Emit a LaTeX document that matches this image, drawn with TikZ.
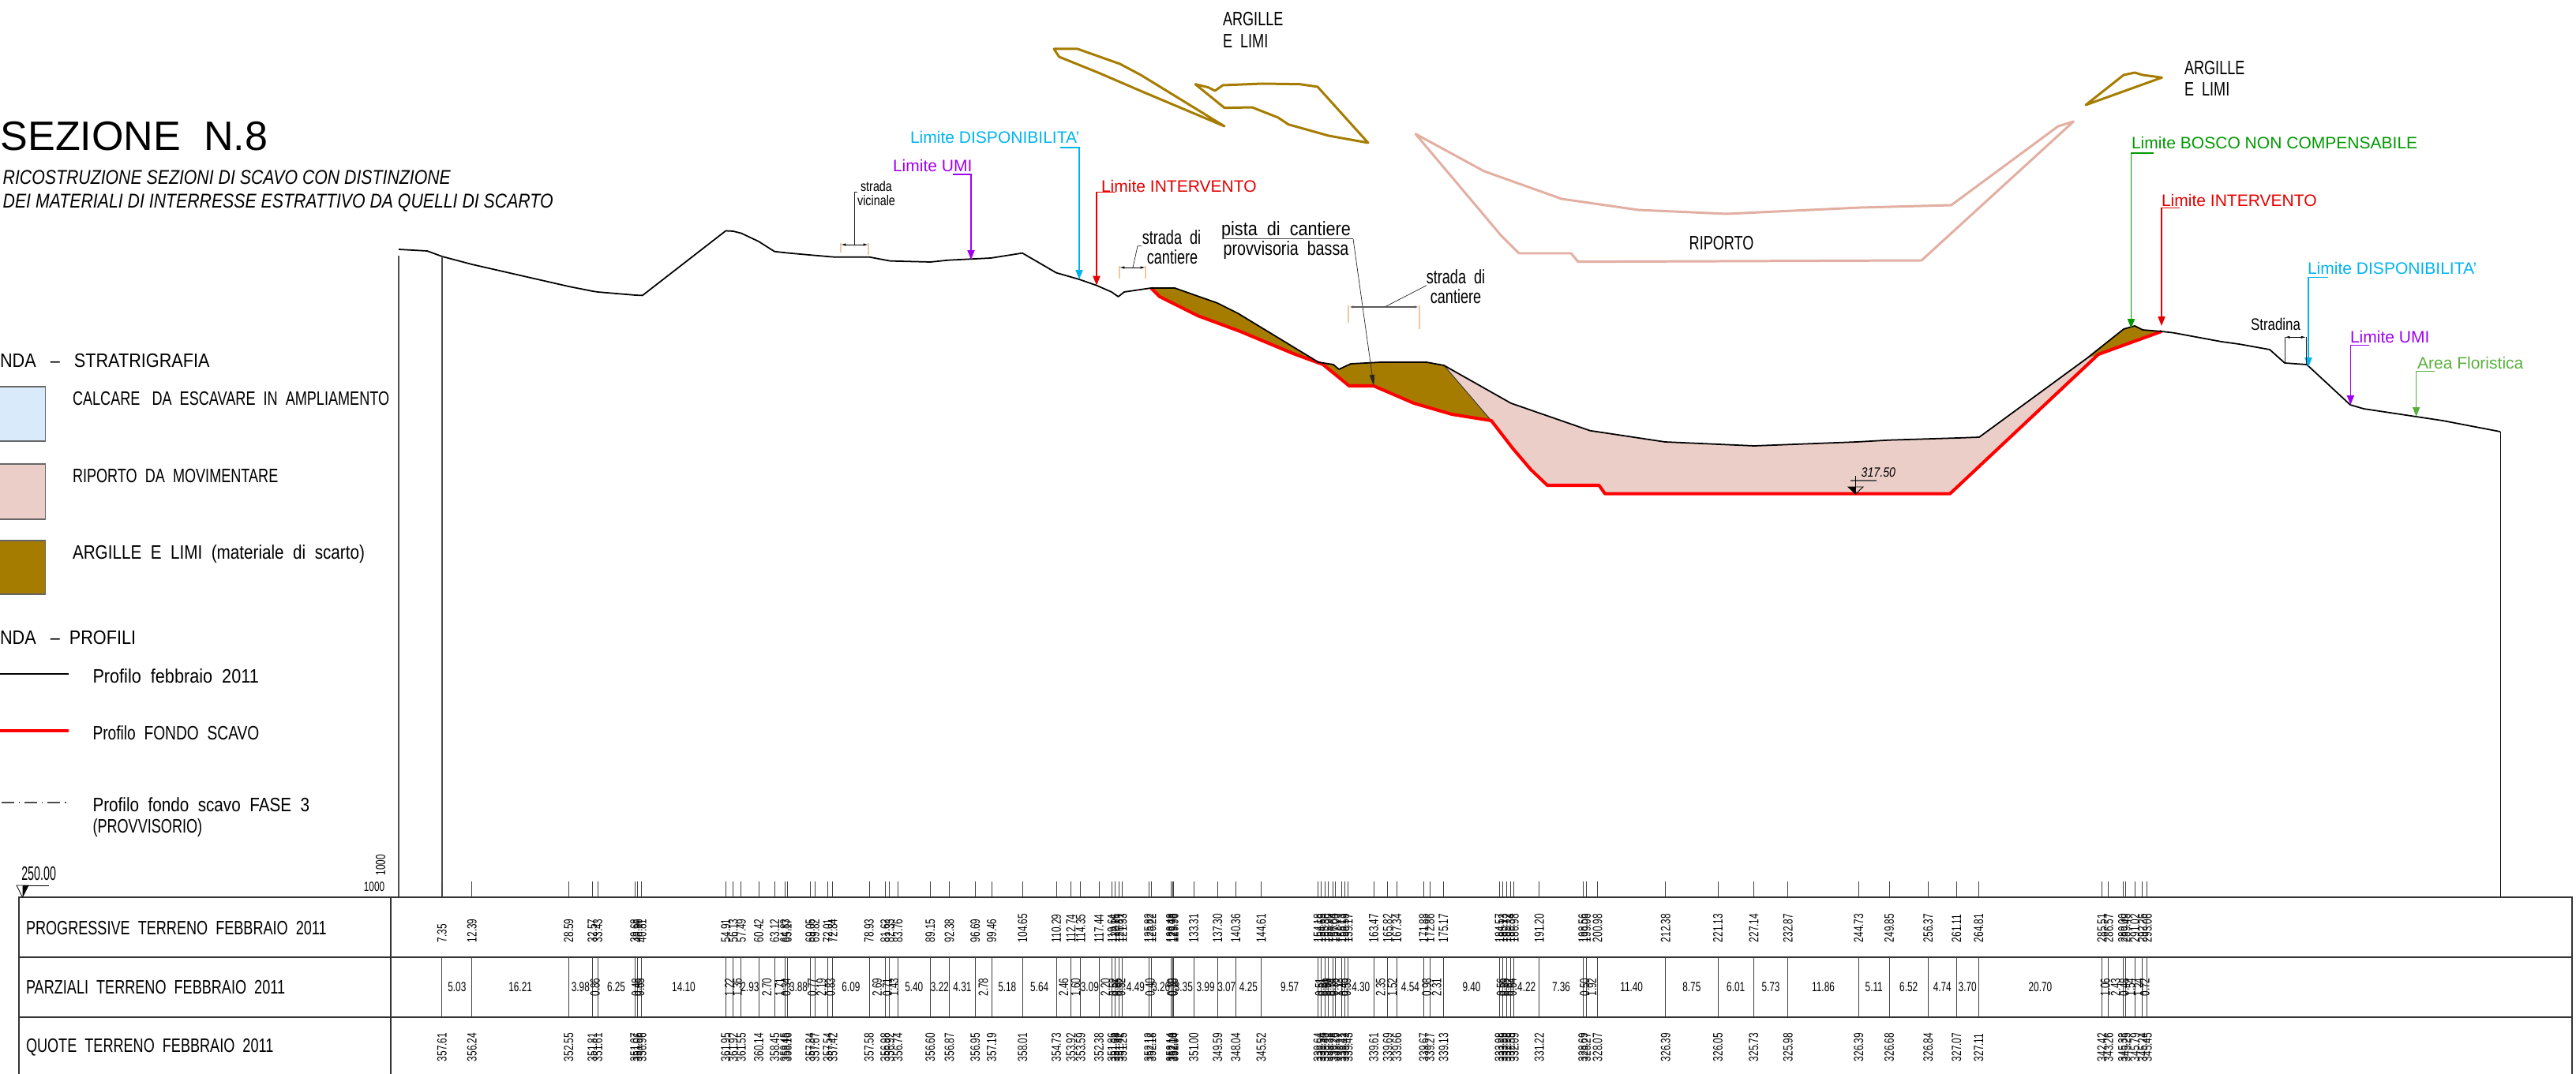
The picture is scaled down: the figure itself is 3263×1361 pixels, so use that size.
\documentclass[tikz,border=0pt]{standalone}
\usepackage{fontspec}
\usetikzlibrary{arrows.meta}
\setmainfont{Liberation Sans}
\newfontfamily\cad[FakeStretch=0.735]{Liberation Sans}
\newfontfamily\cadq[FakeStretch=0.78]{Liberation Sans}
\newfontfamily\cadm[FakeStretch=0.80]{Liberation Sans}
\newfontfamily\cadp[FakeStretch=0.84]{Liberation Sans}
\newfontfamily\cadl[FakeStretch=0.88]{Liberation Sans}
\newfontfamily\cadn[FakeStretch=0.7]{Liberation Sans}
\newfontfamily\cadx[FakeStretch=0.58]{Liberation Sans}
\newfontfamily\cadi[FakeStretch=0.84]{Liberation Sans Italic}
\definecolor{brownfill}{HTML}{A67C00}
\definecolor{pinkfill}{HTML}{EBCEC7}
\definecolor{pinkline}{HTML}{E2AFA2}
\definecolor{bluefill}{HTML}{D9EAFB}
\definecolor{cyanlim}{HTML}{00B4F0}
\definecolor{purplim}{HTML}{A000F0}
\definecolor{redlim}{HTML}{E60000}
\definecolor{greenlim}{HTML}{009900}
\definecolor{greenflo}{HTML}{5AAF3C}
\definecolor{tanext}{HTML}{F0C8A0}
\tikzset{
 txt/.style={inner sep=0pt,outer sep=0pt,font=\cad\fontsize{7pt}{7pt}\selectfont,text=black},
 txtm/.style={txt,font=\cadm\fontsize{7pt}{7pt}\selectfont},
 txtl/.style={txt,font=\cadl\fontsize{7pt}{7pt}\selectfont},
 txtp/.style={txt,font=\cadp\fontsize{7pt}{7pt}\selectfont},
 txtq/.style={txt,font=\cadq\fontsize{7pt}{7pt}\selectfont},
 txtL/.style={txt,anchor=west},
 txtmL/.style={txtm,anchor=west},
 txtlL/.style={txtl,anchor=west},
 small/.style={txt,font=\cadm\fontsize{5.1pt}{5.1pt}\selectfont},
 num/.style={inner sep=0pt,outer sep=0pt,font=\cadn\fontsize{4.8pt}{4.8pt}\selectfont},
 lim/.style={inner sep=0pt,outer sep=0pt,anchor=west,font=\fontsize{5.98pt}{5.98pt}\selectfont},
 limline/.style={line width=0.42pt,-{Triangle[length=3.4pt,width=2.6pt]}},
 brownline/.style={draw=brownfill,line width=0.85pt,line join=round},
 pinkout/.style={draw=pinkline,line width=0.85pt,line join=round},
 thinl/.style={line width=0.2pt,draw=black!85},
 dimline/.style={line width=0.25pt,{Latex[length=1.8pt,width=0.9pt]}-{Latex[length=1.8pt,width=0.9pt]}},
 extl/.style={line width=0.3pt,draw=tanext},
 tabline/.style={line width=0.42pt,draw=black!80},
 tick/.style={line width=0.22pt,draw=black!75},
 legbox/.style={line width=0.35pt,draw=black!60},
}
\begin{document}
\begin{tikzpicture}[x=0.01cm,y=-0.01cm]
\useasboundingbox (0,0) rectangle (3263,1361);
% title
\node[inner sep=0pt,anchor=west,font=\fontsize{14.8pt}{14.8pt}\selectfont] (title) at (0,173) {SEZIONE\ \ N.8};
\node[inner sep=0pt,anchor=west,font=\cadi\fontsize{7.2pt}{7.2pt}\selectfont] (sub1) at (3,225) {RICOSTRUZIONE SEZIONI DI SCAVO CON DISTINZIONE};
\node[inner sep=0pt,anchor=west,font=\cadi\fontsize{7.2pt}{7.2pt}\selectfont] (sub2) at (3,257) {DEI MATERIALI DI INTERRESSE ESTRATTIVO DA QUELLI DI SCARTO};
% legend
\node[txtlL] (leg1) at (0,457) {NDA\ \ \ –\ \ \ STRATRIGRAFIA};
\draw[legbox,fill=bluefill] (-5,490) rectangle (57.4,559);
\draw[legbox,fill=pinkfill] (-5,588) rectangle (57.4,658);
\draw[legbox,fill=brownfill] (-5,685) rectangle (57.4,753);
\node[txtL] (leg2) at (92,505) {CALCARE\ \ \ DA\ \ ESCAVARE\ \ IN\ \ AMPLIAMENTO};
\node[txtL] (leg3) at (92,603) {RIPORTO\ \ DA\ \ MOVIMENTARE};
\node[txtp,anchor=west] (leg4) at (92,702) {ARGILLE\ \ E\ \ LIMI\ \ (materiale\ \ di\ \ scarto)};
\node[txtlL] (leg5) at (0,808) {NDA\ \ \ –\ \ PROFILI};
\draw[line width=0.4pt] (-5,854) -- (87,854);
\node[txtlL] (leg6) at (117.5,857) {Profilo\ \ febbraio\ \ 2011};
\draw[line width=1.1pt,draw=red] (-5,926) -- (87,926);
\node[txtq,anchor=west] (leg7) at (117.5,929) {Profilo\ \ FONDO\ \ SCAVO};
\draw[line width=0.3pt,draw=black!70,dash pattern=on 4.5pt off 1.7pt on 0.4pt off 1.7pt] (2,1017) -- (87,1017);
\node[txtp,anchor=west] (leg8) at (117.5,1020) {Profilo\ \ fondo\ \ scavo\ \ FASE\ \ 3};
\node[txtL] (leg9) at (117.5,1049) {(PROVVISORIO)};
% scale marks
\node[inner sep=0pt,anchor=west,font=\cadx\fontsize{7pt}{7pt}\selectfont] (lev) at (26.6,1107) {250.00};
\draw[line width=0.25pt] (21,1122) -- (62,1122);
\draw[line width=0.25pt,fill=white] (21,1122) -- (36,1122) -- (28.5,1137) -- cycle;
\fill (28.5,1122) -- (36,1122) -- (28.5,1137) -- cycle;
\node[num,rotate=90] (sc1) at (482,1096) {1000};
\node[num] (sc2) at (474,1124) {1000};
% fills
\fill[pinkfill] (1829,463) -- (1914,511) -- (2014,545.7) -- (2109,560) -- (2222,565) -- (2352,560) -- (2393,557.7) -- (2480,555) -- (2507,554) -- (2643.5,454) -- (2658,449) -- (2470,625.7) -- (2033,625.7) -- (2025.5,615) -- (1960,615) -- (1939,595) -- (1916,568) -- (1889,533) -- cycle;
\fill[brownfill] (1458,365) -- (1488,365) -- (1542,384) -- (1568,397) -- (1670,459) -- (1689,462) -- (1696,468) -- (1711,461) -- (1749,459) -- (1807,459) -- (1829,463) -- (1889,533) -- (1839,525) -- (1791,511) -- (1740,489) -- (1709,489) -- (1676,462) -- (1638,448) -- (1571,420) -- (1517,400) -- (1469,376) -- cycle;
\fill[brownfill] (2643.5,454) -- (2690,417) -- (2704,413) -- (2714,418) -- (2738,420) -- (2658,449) -- cycle;
\draw[line width=0.25pt,draw=black!80] (1829,463) -- (1889,533);
% red profile
\draw[line width=1.15pt,draw=red,line join=round] (1458,365) -- (1469,376) -- (1517,400) -- (1571,420) -- (1638,448) -- (1676,462) -- (1709,489) -- (1740,489) -- (1791,511) -- (1839,525) -- (1889,533) -- (1916,568) -- (1939,595) -- (1960,615) -- (2025.5,615) -- (2033,625.7) -- (2470,625.7) -- (2658,449) -- (2738,420);
% black profile
\draw[line width=0.5pt,line join=round] (505,316) -- (541,318) -- (560,325) -- (597.7,335) -- (720.4,363) -- (750.6,369) -- (757,370) -- (804.6,374) -- (813.8,374.4) -- (919.3,292.5) -- (928.8,293) -- (938.8,295.5) -- (961,306) -- (981,318.7) -- (997,320.5) -- (1024.7,323) -- (1056,325.7) -- (1101,325.7) -- (1127.5,330.7) -- (1178.6,332) -- (1201,329.7) -- (1255,327) -- (1295,320.7) -- (1338,345.7) -- (1367,354) -- (1389,361.7) -- (1408,370) -- (1416.5,376) -- (1424,370) -- (1458,365) -- (1488,365) -- (1542,384) -- (1568,397) -- (1670,459) -- (1689,462) -- (1696,468) -- (1711,461) -- (1749,459) -- (1807,459) -- (1829,463) -- (1914,511) -- (2014,545.7) -- (2109,560) -- (2222,565) -- (2352,560) -- (2393,557.7) -- (2480,555) -- (2507,554) -- (2643.5,454) -- (2690,417) -- (2704,413) -- (2714,418) -- (2738,420) -- (2753,421.7) -- (2814,433) -- (2836,436) -- (2875,443) -- (2894,460) -- (2922,462) -- (2977,513) -- (2994,518) -- (3094,533) -- (3167,547);
% ghost outlines
\draw[brownline] (1335,62) -- (1365,62) -- (1418.6,81) -- (1445,95) -- (1551,160) -- (1449,117) -- (1391,92) -- (1341.5,72) -- cycle;
\draw[brownline] (1514,106.7) -- (1530.5,110.7) -- (1539,115) -- (1549,108) -- (1598.5,106) -- (1646.6,106.7) -- (1669,110) -- (1733,181) -- (1683,172) -- (1632,157.7) -- (1619,149) -- (1586,136) -- (1551,136.7) -- cycle;
\draw[brownline] (2690,95) -- (2704,92) -- (2714,95) -- (2738.4,98.3) -- (2642,133) -- cycle;
\draw[pinkout] (1793,169.7) -- (1880,217) -- (1978,252) -- (2075,266) -- (2187,271) -- (2357,263) -- (2471.6,260) -- (2607,160) -- (2626.5,154) -- (2434,330) -- (1999,331.7) -- (1990,321) -- (1924,321) -- (1901,298) -- cycle;
\node[txt,anchor=west] (ar1) at (1549,24) {ARGILLE};
\node[txt,anchor=west] (ar2) at (1549,52) {E\ \ LIMI};
\node[txt,anchor=west] (ar3) at (2767,86) {ARGILLE};
\node[txt,anchor=west] (ar4) at (2767,113) {E\ \ LIMI};
\node[txt] (rip) at (2180.6,308) {RIPORTO};
% limits left
\node[lim,text=cyanlim] (ld1) at (1153,174) {Limite DISPONIBILITA'};
\draw[limline,draw=cyanlim] (1343,187) -- (1367,187) -- (1367,354);
\node[lim,text=purplim] (lu1) at (1131,210) {Limite UMI};
\draw[limline,draw=purplim] (1207,221) -- (1230,221) -- (1230,329);
\node[lim,text=redlim] (li1) at (1395,236) {Limite INTERVENTO};
\draw[limline,draw=redlim] (1413,243.7) -- (1389,243.7) -- (1389,361.7);
% limits right
\node[lim,text=greenlim] (lb) at (2700,180.7) {Limite BOSCO NON COMPENSABILE};
\draw[limline,draw=greenlim] (2728,194) -- (2699.5,194) -- (2699.5,416);
\node[lim,text=redlim] (li2) at (2738,254) {Limite INTERVENTO};
\draw[limline,draw=redlim] (2761,263.7) -- (2738,263.7) -- (2738,413);
\node[lim,text=cyanlim] (ld2) at (2923,340) {Limite DISPONIBILITA'};
\draw[limline,draw=cyanlim] (2948.7,351.7) -- (2924,351.7) -- (2924,465);
\node[lim,text=purplim] (lu2) at (2977,426.7) {Limite UMI};
\draw[limline,draw=purplim] (3001,437.7) -- (2977.4,437.7) -- (2977.4,513);
\node[lim,text=greenflo] (af) at (3062,460) {Area Floristica};
\draw[limline,draw=greenflo] (3084,470.7) -- (3060.6,470.7) -- (3060.6,528);
% road notes
\node[small] (sv1) at (1110,236) {strada};
\node[small] (sv2) at (1110,254) {vicinale};
\draw[thinl] (1086,243) -- (1082,243) -- (1082,310);
\draw[extl] (1065,308) -- (1065,320);
\draw[extl] (1100,308) -- (1100,323);
\draw[dimline] (1065,310) -- (1100,310);
\node[txt] (sc1a) at (1484,301) {strada\ \ di};
\node[txt] (sc1b) at (1485,325.7) {cantiere};
\draw[thinl] (1446,311.7) -- (1441,311.7) -- (1435,339);
\draw[extl] (1418,337) -- (1418,353);
\draw[extl] (1451,337) -- (1451,353);
\draw[dimline] (1418,339) -- (1451,339);
\node[txtl] (pc1) at (1629,292) {pista\ \ di\ \ cantiere};
\node[txtm] (pc2) at (1629,317) {provvisoria\ \ bassa};
\draw[line width=0.3pt,draw=black!70] (1548,302.7) -- (1714,302.7);
\draw[thinl,-{Triangle[length=4pt,width=1.8pt]}] (1714,302.7) -- (1740,489);
\node[txt] (sc2a) at (1844,350.7) {strada\ \ di};
\node[txt] (sc2b) at (1844,375.7) {cantiere};
\draw[thinl] (1807,361.7) -- (1754,389);
\draw[extl] (1708,387) -- (1708,409);
\draw[extl] (1798,387) -- (1798,417);
\draw[dimline,draw=black!65,line width=0.4pt] (1708,389) -- (1798,389);
\node[txtm,font=\cadm\fontsize{6pt}{6pt}\selectfont] (st) at (2882.5,410.7) {Stradina};
\draw[thinl] (2894,427) -- (2894,460);
\draw[thinl] (2921,427) -- (2921,462);
\draw[dimline,line width=0.2pt] (2894,427.3) -- (2921,427.3);
% bottom mark
\draw[line width=0.3pt,draw=black!65] (2344,609) -- (2376.5,609);
\draw[line width=0.25pt] (2350.5,603) -- (2350.5,625);
\draw[line width=0.25pt] (2341,617) -- (2360,617) -- (2350.5,626) -- cycle;
\fill (2341,617) -- (2350.5,617) -- (2350.5,626) -- cycle;
\node[inner sep=0pt,anchor=west,font=\cadi\fontsize{4.8pt}{4.8pt}\selectfont] (q) at (2357,599) {317.50};
% frame
\draw[line width=0.3pt,draw=black!70] (505,324) -- (505,1137);
\draw[line width=0.3pt,draw=black!70] (560,325) -- (560,1137);
\draw[line width=0.3pt,draw=black] (3167,547) -- (3167,1137);
\draw[tabline] (24,1370) -- (24,1137) -- (3258,1137) -- (3258,1370);
\draw[tabline] (24,1213) -- (3258,1213);
\draw[tabline] (24,1289) -- (3258,1289);
\draw[line width=0.3pt,draw=black!80] (495,1137) -- (495,1370);
\node[txtL] (r1) at (33,1176) {PROGRESSIVE\ \ TERRENO\ \ FEBBRAIO\ \ 2011};
\node[txtL] (r2) at (33,1251) {PARZIALI\ \ TERRENO\ \ FEBBRAIO\ \ 2011};
\node[txtL] (r3) at (33,1327) {QUOTE\ \ TERRENO\ \ FEBBRAIO\ \ 2011};
% stations
\foreach \p/\q in {7.35/357.61,12.39/356.24,28.59/352.55,32.57/351.81,33.43/351.61,39.68/351.07,40.16/351.06,40.81/350.96,
54.91/361.95,56.13/361.92,57.49/361.55,60.42/360.14,63.12/358.45,64.83/358.45,65.17/358.16,69.05/357.84,69.82/357.67,72.01/357.54,72.84/357.42,
78.93/357.58,81.62/356.98,82.33/356.92,83.76/356.74,89.15/356.60,92.38/356.87,96.69/356.95,99.46/357.19,104.65/358.01,110.29/354.73,112.74/353.92,114.35/353.59,117.44/352.38,
119.64/351.86,120.16/351.64,120.81/351.42,121.33/351.25,125.82/352.12,126.22/352.18,129.48/352.14,129.78/352.10,129.96/352.04,133.31/351.00,137.30/349.59,140.36/348.04,144.61/345.52,
154.18/339.64,154.69/339.54,155.30/339.40,155.90/339.31,156.64/339.28,157.00/339.25,158.13/339.41,158.58/339.42,159.17/339.43,163.47/339.61,165.82/339.69,167.34/339.66,171.88/339.67,172.86/339.27,175.17/339.13,
184.57/333.98,185.13/333.55,185.72/332.98,186.34/332.55,186.98/332.09,191.20/331.22,198.56/328.69,199.06/328.27,200.98/328.07,212.38/326.39,221.13/326.05,227.14/325.73,232.87/325.98,244.73/326.39,249.85/326.68,256.37/326.84,261.11/327.07,264.81/327.11,
285.51/342.42,286.57/343.26,289.00/345.33,289.48/345.25,291.02/345.79,292.26/345.24,293.06/345.45}{
 \pgfmathsetmacro\xs{504.2+7.56*\p}
 \draw[tick] (\xs,1117) -- (\xs,1137);
 \draw[tick] (\xs,1213) -- (\xs,1289);
 \node[num,rotate=90,anchor=west] at (\xs,1194) {\p};
 \node[num,rotate=90,anchor=west] at (\xs,1345) {\q};
}
% partials
\foreach \a/\b/\t in {7.35/12.39/5.03,12.39/28.59/16.21,28.59/32.57/3.98,32.57/33.43/0.86,33.43/39.68/6.25,39.68/40.16/0.48,40.16/40.81/0.65,40.81/54.91/14.10,
54.91/56.13/1.22,56.13/57.49/1.36,57.49/60.42/2.93,60.42/63.12/2.70,63.12/64.83/1.71,64.83/65.17/0.34,65.17/69.05/3.88,69.05/69.82/0.77,69.82/72.01/2.19,72.01/72.84/0.83,72.84/78.93/6.09,
78.93/81.62/2.69,81.62/82.33/0.71,82.33/83.76/1.43,83.76/89.15/5.40,89.15/92.38/3.22,92.38/96.69/4.31,96.69/99.46/2.78,99.46/104.65/5.18,104.65/110.29/5.64,110.29/112.74/2.46,112.74/114.35/1.60,114.35/117.44/3.09,
117.44/119.64/2.20,119.64/120.16/0.52,120.16/120.81/0.65,120.81/121.33/0.52,121.33/125.82/4.49,125.82/126.22/0.40,126.22/129.48/3.26,129.48/129.78/0.30,129.78/129.96/0.18,129.96/133.31/3.35,133.31/137.30/3.99,137.30/140.36/3.07,140.36/144.61/4.25,144.61/154.18/9.57,
154.18/154.69/0.51,154.69/155.30/0.61,155.30/155.90/0.60,155.90/156.64/0.74,156.64/157.00/0.36,157.00/158.13/1.13,158.13/158.58/0.45,158.58/159.17/0.59,159.17/163.47/4.30,163.47/165.82/2.35,165.82/167.34/1.52,167.34/171.88/4.54,171.88/172.86/0.98,172.86/175.17/2.31,175.17/184.57/9.40,
184.57/185.13/0.56,185.13/185.72/0.59,185.72/186.34/0.62,186.34/186.98/0.64,186.98/191.20/4.22,191.20/198.56/7.36,198.56/199.06/0.50,199.06/200.98/1.92,200.98/212.38/11.40,212.38/221.13/8.75,221.13/227.14/6.01,227.14/232.87/5.73,232.87/244.73/11.86,244.73/249.85/5.11,249.85/256.37/6.52,256.37/261.11/4.74,261.11/264.81/3.70,264.81/285.51/20.70,
285.51/286.57/1.06,286.57/289.00/2.43,289.00/289.48/0.48,289.48/291.02/1.54,291.02/292.26/1.24,292.26/293.06/0.72}{
 \pgfmathsetmacro\xm{504.2+7.56*(\a+\b)/2}
 \pgfmathsetmacro\rt{(\b-\a)<2.8?90:0}
 \node[num,rotate=\rt] at (\xm,1251) {\t};
}
\end{tikzpicture}
\end{document}
